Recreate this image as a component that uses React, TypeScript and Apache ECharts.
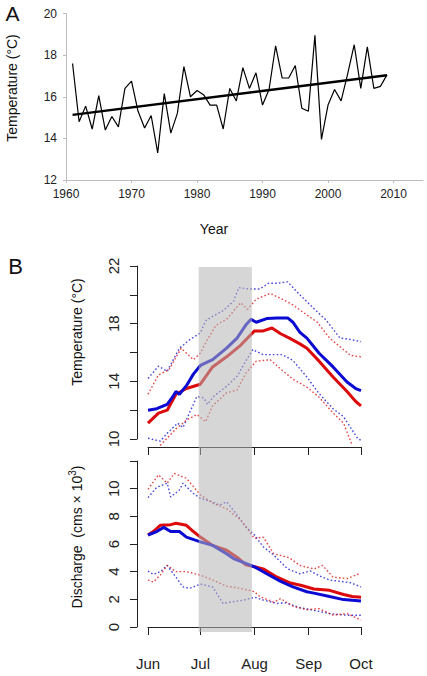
import React, { useEffect, useRef } from 'react';
import * as echarts from 'echarts';

const FONT = '"Liberation Sans", Arial, Helvetica, sans-serif';

// ---- Panel A: annual mean temperature ----
const years = Array.from({ length: 49 }, (_, i) => 1961 + i);
const annualTemp = [
  17.6, 14.8, 15.55, 14.45, 16.05, 14.4, 15.05, 14.55, 16.4, 16.75,
  15.3, 14.5, 15.1, 13.3, 16.15, 14.25, 15.2, 17.45, 16.0, 16.3,
  16.1, 15.6, 15.6, 14.45, 16.4, 15.8, 17.4, 16.4, 17.15, 15.6,
  16.35, 18.45, 16.9, 16.9, 17.5, 15.45, 15.3, 18.95, 13.95, 15.6,
  16.35, 15.8, 17.1, 18.5, 16.4, 18.4, 16.4, 16.5, 17.05,
];
const trendYears = [1961, 2009];
const trendTemp = [15.13, 17.03];
const yearTicks = [1960, 1970, 1980, 1990, 2000, 2010];

// ---- Panel B: seasonal curves, [day since 1 Jun, value] ----
const monthLabels = ['Jun', 'Jul', 'Aug', 'Sep', 'Oct'];
const monthStartDays = [0, 30, 61, 92, 122];
const shadedDays = [29, 59.5];

const tempBlueMean = [
  [0, 12.0], [5, 12.1], [11, 12.4], [14, 12.9], [16, 13.3], [18, 13.1], [22, 13.7],
  [26, 14.5], [30, 15.1], [37, 15.5], [45, 16.3], [51, 17.0], [56, 17.9], [59, 18.3],
  [62, 18.1], [68, 18.35], [74, 18.4], [80, 18.4], [83, 18.1], [87, 17.4], [91, 17.0],
  [98, 15.95], [106, 15.0], [114, 13.95], [119, 13.5], [122, 13.35],
];
const tempRedMean = [
  [0, 11.1], [6, 11.8], [11, 12.0], [16, 13.1], [22, 13.5], [30, 13.8], [37, 15.0],
  [45, 15.7], [53, 16.5], [61, 17.5], [66, 17.5], [71, 17.7], [76, 17.3], [81, 17.0],
  [87, 16.6], [91, 16.3], [98, 15.4], [106, 14.3], [114, 13.3], [119, 12.6], [122, 12.3],
];
const tempBlueUpper = [
  [0, 14.2], [6, 15.05], [11, 14.7], [18, 16.3], [24, 16.9], [30, 17.35], [33, 18.2],
  [37, 18.5], [43, 18.9], [49, 19.55], [52, 20.5], [58, 20.4], [64, 20.4], [69, 20.8],
  [74, 20.8], [80, 20.9], [87, 20.0], [95, 19.05], [102, 18.25], [110, 17.0], [116, 16.9],
  [122, 16.75],
];
const tempBlueLower = [
  [0, 10.05], [7, 9.85], [11, 10.4], [17, 11.1], [20, 10.8], [28, 12.95], [32, 12.85],
  [34, 12.4], [38, 13.0], [45, 13.65], [51, 14.35], [56, 15.4], [60, 16.2], [66, 15.85],
  [72, 15.85], [77, 15.85], [83, 15.45], [91, 14.3], [98, 13.15], [106, 12.1], [112, 11.55],
  [120, 10.05], [122, 9.9],
];
const tempRedUpper = [
  [0, 13.1], [6, 14.45], [12, 14.8], [19, 16.3], [26, 15.5], [30, 15.95], [34, 16.9],
  [39, 17.9], [45, 18.3], [53, 19.45], [57, 19.0], [62, 19.7], [70, 20.1], [76, 19.75],
  [83, 19.3], [91, 18.6], [97, 18.1], [104, 17.0], [110, 16.4], [116, 15.8], [122, 15.7],
];
const tempRedLower = [
  [7, 9.55], [16, 10.7], [22, 11.3], [28, 11.7], [33, 11.2], [37, 12.3], [45, 13.2],
  [51, 13.4], [56, 14.55], [62, 15.4], [70, 15.5], [76, 14.85], [83, 14.15], [91, 13.6],
  [98, 12.9], [106, 11.8], [112, 11.1], [117, 9.55],
];

const qBlueMean = [
  [0, 6.65], [5, 6.9], [9, 7.2], [13, 6.9], [18, 6.9], [22, 6.5], [30, 6.15], [37, 5.9],
  [45, 5.3], [49, 4.95], [56, 4.6], [61, 4.35], [68, 3.85], [76, 3.3], [83, 2.9],
  [91, 2.55], [95, 2.45], [104, 2.2], [112, 1.98], [122, 1.88],
];
const qRedMean = [
  [0, 6.65], [3, 6.9], [7, 7.35], [13, 7.4], [16, 7.5], [22, 7.35], [26, 6.9], [30, 6.5],
  [37, 5.9], [45, 5.55], [51, 5.05], [56, 4.5], [61, 4.35], [66, 4.2], [74, 3.6],
  [81, 3.2], [88, 3.0], [95, 2.75], [104, 2.65], [112, 2.35], [117, 2.2], [122, 2.15],
];
const qBlueUpper = [
  [0, 9.35], [5, 10.1], [11, 10.4], [13, 9.4], [18, 9.9], [20, 10.4], [26, 9.65],
  [30, 9.3], [37, 9.05], [41, 8.8], [45, 9.05], [51, 8.1], [56, 7.25], [61, 6.65],
  [66, 5.8], [72, 5.2], [76, 4.7], [80, 4.2], [87, 3.85], [93, 4.05], [98, 3.7],
  [104, 3.4], [110, 3.3], [116, 3.2], [122, 2.9],
];
const qBlueLower = [
  [0, 4.05], [3, 3.8], [7, 4.0], [11, 4.45], [16, 3.6], [20, 2.9], [24, 2.8], [30, 3.1],
  [37, 2.9], [43, 1.7], [47, 1.8], [55, 1.95], [61, 2.15], [66, 1.95], [74, 1.7],
  [79, 1.75], [87, 1.4], [95, 1.2], [104, 0.97], [114, 0.85], [122, 0.85],
];
const qRedUpper = [
  [0, 9.95], [6, 11.0], [11, 10.4], [15, 11.1], [22, 10.75], [30, 9.55], [37, 8.95],
  [45, 8.55], [53, 7.75], [61, 6.4], [66, 6.5], [72, 5.3], [81, 5.0], [87, 4.45],
  [95, 4.2], [100, 4.45], [106, 3.6], [114, 3.5], [121, 3.85],
];
const qRedLower = [
  [0, 3.4], [3, 3.25], [7, 3.75], [11, 4.45], [16, 4.0], [22, 4.0], [30, 3.75],
  [37, 3.4], [45, 2.95], [53, 2.8], [61, 2.55], [64, 2.2], [72, 1.8], [76, 2.05],
  [83, 1.5], [91, 1.25], [98, 1.33], [106, 0.85], [114, 0.97], [122, 0.5],
];

const BLUE = '#0a0ad2';
const RED = '#dc0a0a';

export default function App() {
  const ref = useRef<HTMLDivElement>(null);

  useEffect(() => {
    if (!ref.current) return;
    const chart = echarts.init(ref.current, undefined, { renderer: 'svg' });

    const dayCats = Array.from({ length: 123 }, (_, i) => String(i));
    const isMonthStart = (i: number) => monthStartDays.indexOf(i) >= 0;

    const bLine = (data: number[][], axis: number, color: string, dotted: boolean) => ({
      type: 'line',
      xAxisIndex: axis,
      yAxisIndex: axis,
      data,
      symbol: 'none',
      silent: true,
      clip: false,
      z: dotted ? 2 : 3,
      lineStyle: dotted
        ? { color, width: 1.4, type: [1.6, 2.2], opacity: 0.75 }
        : { color, width: 3 },
    });

    const axisTextStyle = { fontFamily: FONT, color: '#222' };

    const option: any = {
      animation: false,
      backgroundColor: '#fff',
      grid: [
        { left: 66, top: 13.5, width: 357, height: 166.5 },
        { left: 148, top: 266, width: 213, height: 173 },
        { left: 148, top: 461, width: 213, height: 166 },
        { left: 148, top: 267, width: 213, height: 365 },
      ],
      xAxis: [
        {
          gridIndex: 0,
          type: 'value',
          min: 1960,
          max: 2014.5,
          interval: 10,
          axisLine: { show: true, lineStyle: { color: '#bdbdbd', width: 1 } },
          axisTick: { show: true, length: 3, lineStyle: { color: '#bdbdbd' } },
          splitLine: { show: false },
          axisLabel: {
            ...axisTextStyle,
            fontSize: 12,
            margin: 8,
            showMaxLabel: false,
            formatter: (v: number) => (yearTicks.indexOf(v) >= 0 ? String(v) : ''),
          },
        },
        {
          gridIndex: 1,
          type: 'category',
          data: dayCats,
          boundaryGap: false,
          offset: 8,
          axisLine: { show: true, lineStyle: { color: '#222', width: 1 } },
          axisTick: {
            show: true,
            length: 8,
            interval: (i: number) => isMonthStart(i),
            lineStyle: { color: '#222' },
          },
          axisLabel: { show: false },
          splitLine: { show: false },
        },
        {
          gridIndex: 2,
          type: 'category',
          data: dayCats,
          boundaryGap: false,
          offset: 15,
          axisLine: { show: true, lineStyle: { color: '#222', width: 1 } },
          axisTick: {
            show: true,
            length: 8,
            interval: (i: number) => isMonthStart(i),
            lineStyle: { color: '#222' },
          },
          axisLabel: {
            ...axisTextStyle,
            fontSize: 15,
            margin: 14,
            interval: (i: number) => isMonthStart(i),
            formatter: (v: string) => {
              const k = monthStartDays.indexOf(Number(v));
              return k >= 0 ? monthLabels[k] : '';
            },
          },
          splitLine: { show: false },
        },
        { gridIndex: 3, type: 'value', min: 0, max: 122, show: false },
      ],
      yAxis: [
        {
          gridIndex: 0,
          type: 'value',
          min: 12,
          max: 20,
          interval: 2,
          axisLine: { show: true, lineStyle: { color: '#bdbdbd', width: 1 } },
          axisTick: { show: true, length: 3, lineStyle: { color: '#bdbdbd' } },
          splitLine: { show: false },
          axisLabel: { ...axisTextStyle, fontSize: 12, margin: 9 },
        },
        {
          gridIndex: 1,
          type: 'value',
          min: 10,
          max: 22,
          interval: 2,
          offset: 11,
          axisLine: { show: true, lineStyle: { color: '#222', width: 1 } },
          axisTick: { show: true, length: 7, lineStyle: { color: '#222' } },
          splitLine: { show: false },
          axisLabel: {
            ...axisTextStyle,
            fontSize: 15,
            rotate: 90,
            margin: 16,
            formatter: (v: number) => ((v - 10) % 4 === 0 ? String(v) : ''),
          },
        },
        {
          gridIndex: 2,
          type: 'value',
          min: 0,
          max: 12,
          interval: 2,
          offset: 11,
          axisLine: { show: true, lineStyle: { color: '#222', width: 1 } },
          axisTick: { show: true, length: 7, lineStyle: { color: '#222' } },
          splitLine: { show: false },
          axisLabel: {
            ...axisTextStyle,
            fontSize: 15,
            rotate: 90,
            margin: 16,
            formatter: (v: number) => (v <= 10 ? String(v) : ''),
          },
        },
        { gridIndex: 3, type: 'value', min: 0, max: 1, show: false },
      ],
      series: [
        {
          type: 'line',
          xAxisIndex: 0,
          yAxisIndex: 0,
          data: years.map((y, i) => [y, annualTemp[i]]),
          symbol: 'none',
          silent: true,
          lineStyle: { color: '#000', width: 1.2 },
        },
        {
          type: 'line',
          xAxisIndex: 0,
          yAxisIndex: 0,
          data: trendYears.map((y, i) => [y, trendTemp[i]]),
          symbol: 'none',
          silent: true,
          lineStyle: { color: '#000', width: 2.4 },
        },
        bLine(tempBlueUpper, 1, BLUE, true),
        bLine(tempBlueLower, 1, BLUE, true),
        bLine(tempRedUpper, 1, RED, true),
        bLine(tempRedLower, 1, RED, true),
        bLine(tempRedMean, 1, RED, false),
        bLine(tempBlueMean, 1, BLUE, false),
        bLine(qBlueUpper, 2, BLUE, true),
        bLine(qBlueLower, 2, BLUE, true),
        bLine(qRedUpper, 2, RED, true),
        bLine(qRedLower, 2, RED, true),
        bLine(qRedMean, 2, RED, false),
        bLine(qBlueMean, 2, BLUE, false),
        {
          type: 'custom',
          xAxisIndex: 3,
          yAxisIndex: 3,
          silent: true,
          z: 10,
          encode: { x: [0, 2], y: [1, 3] },
          data: [[shadedDays[0], 0, shadedDays[1], 1]],
          renderItem: (_params: any, api: any) => {
            const a = api.coord([api.value(0), api.value(3)]);
            const b = api.coord([api.value(2), api.value(1)]);
            return {
              type: 'rect',
              shape: { x: a[0], y: a[1], width: b[0] - a[0], height: b[1] - a[1] },
              style: { fill: 'rgba(180,180,180,0.55)' },
            };
          },
        },
      ],
      graphic: [
        {
          type: 'text',
          x: 12.5,
          y: 13,
          style: { text: 'A', fontSize: 21, fontFamily: FONT, fill: '#111', align: 'center', verticalAlign: 'middle' },
        },
        {
          type: 'text',
          x: 12,
          y: 88,
          rotation: Math.PI / 2,
          style: { text: 'Temperature (°C)', fontSize: 14, fontFamily: FONT, fill: '#111', align: 'center', verticalAlign: 'middle' },
        },
        {
          type: 'text',
          x: 214,
          y: 229,
          style: { text: 'Year', fontSize: 14, fontFamily: FONT, fill: '#111', align: 'center', verticalAlign: 'middle' },
        },
        {
          type: 'text',
          x: 15.5,
          y: 266,
          style: { text: 'B', fontSize: 22, fontFamily: FONT, fill: '#111', align: 'center', verticalAlign: 'middle' },
        },
        {
          type: 'text',
          x: 77,
          y: 332,
          rotation: Math.PI / 2,
          style: { text: 'Temperature (°C)', fontSize: 14, fontFamily: FONT, fill: '#111', align: 'center', verticalAlign: 'middle' },
        },
        {
          type: 'text',
          x: 77,
          y: 537,
          rotation: Math.PI / 2,
          style: {
            text: '{n|Discharge  (cms \u00d7 10}{s|3}{n|)}',
            align: 'center',
            verticalAlign: 'middle',
            rich: {
              n: { fontSize: 14, fontFamily: FONT, fill: '#111', lineHeight: 18 },
              s: { fontSize: 10, fontFamily: FONT, fill: '#111', lineHeight: 18, padding: [0, 0, 10, 0] },
            },
          },
        },
      ],
    };

    chart.setOption(option);
    return () => chart.dispose();
  }, []);

  return (
    <div
      ref={ref}
      style={{ position: 'fixed', left: 0, top: 0, width: 427, height: 676, background: '#fff' }}
    />
  );
}
